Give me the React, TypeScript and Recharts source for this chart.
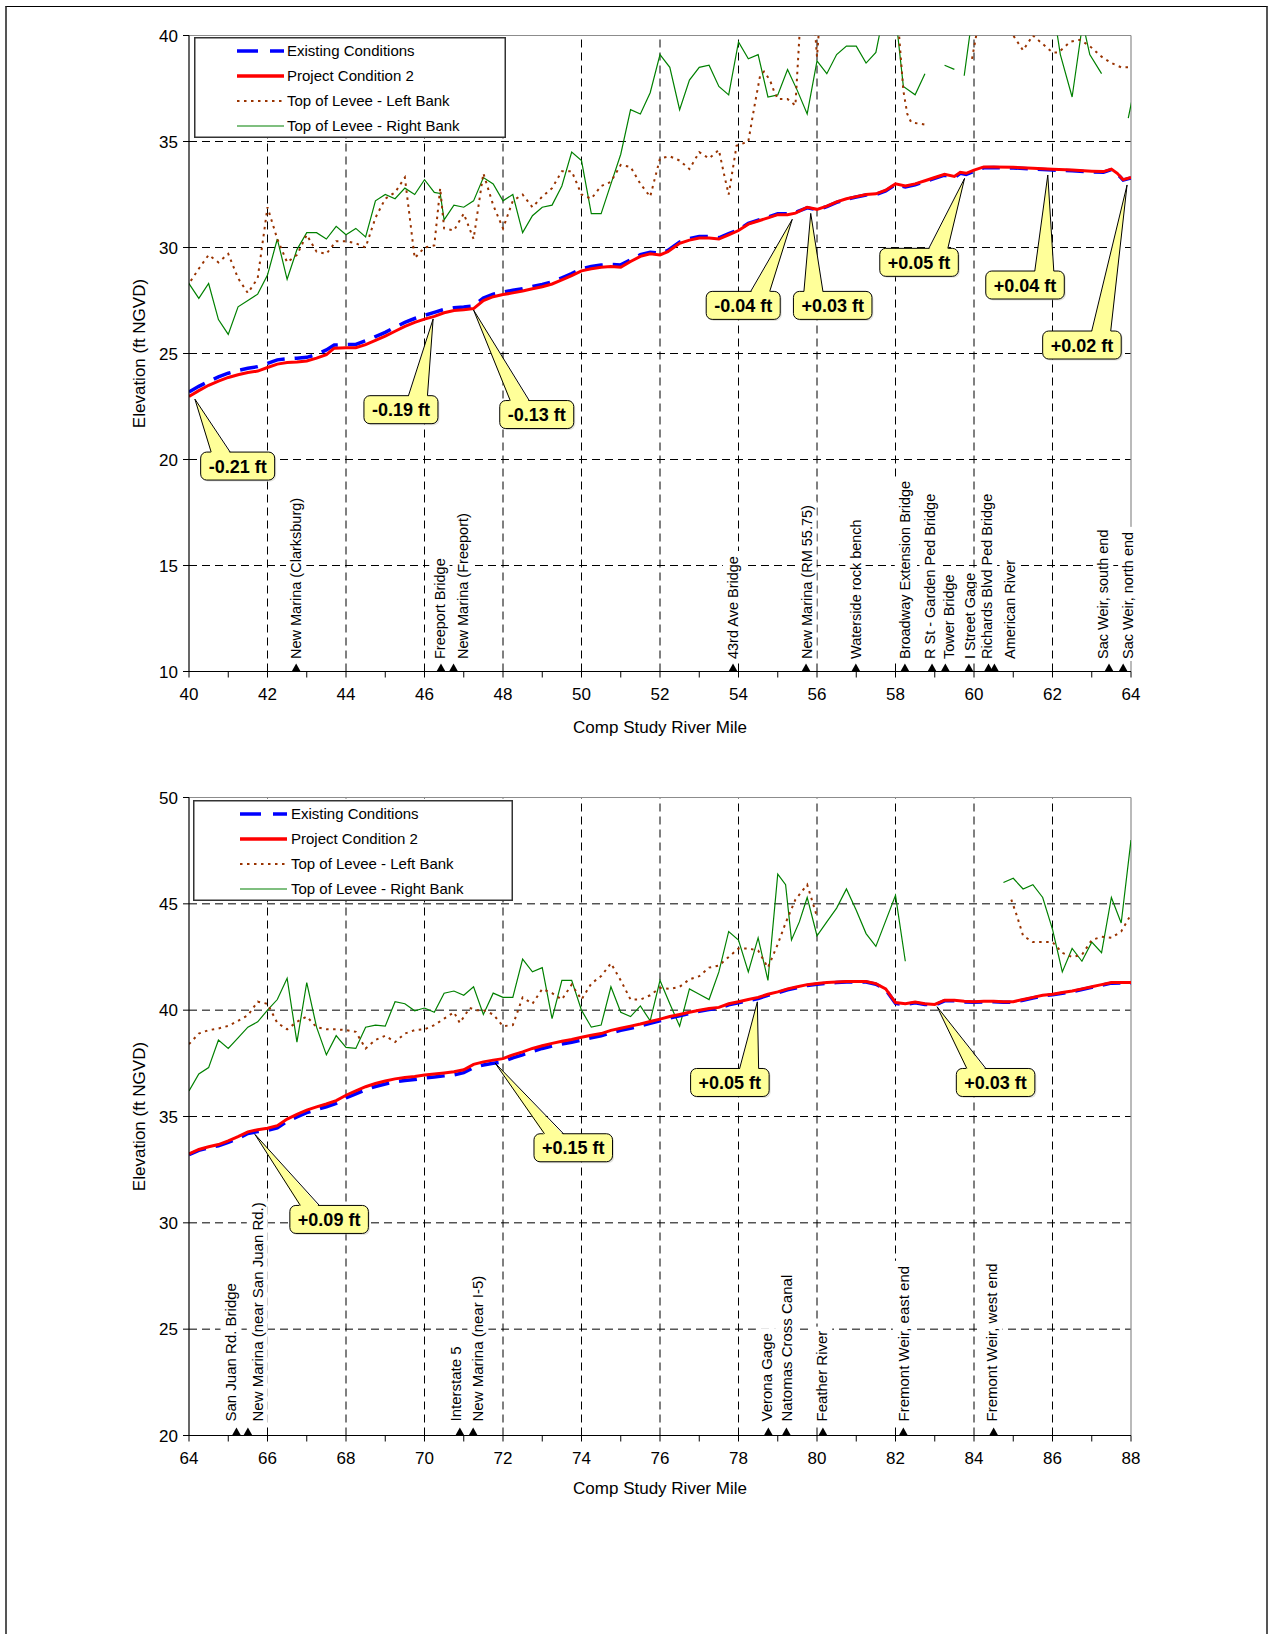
import React from 'react';
import { LineChart, Line, XAxis, YAxis, ReferenceLine, ReferenceDot } from 'recharts';

const FONT = '"Liberation Sans", Arial, Helvetica, sans-serif';
type Pt = [number, number | null];
type Marker = [string, number, number]; // name, river mile, label mile
type Callout = [string, number, number, number, number]; // text, tip mile, tip elev, box mile, box elev

const seriesNames = ['Existing Conditions', 'Project Condition 2', 'Top of Levee - Left Bank', 'Top of Levee - Right Bank'];

// ---------------- Upper reach: RM 40 - 64 ----------------
const topMileTicks = [40, 41, 42, 43, 44, 45, 46, 47, 48, 49, 50, 51, 52, 53, 54, 55, 56, 57, 58, 59, 60, 61, 62, 63, 64];
const topElevTicks = [10, 15, 20, 25, 30, 35, 40];
const topGridMiles = [42, 44, 46, 48, 50, 52, 54, 56, 58, 60, 62];
const topGridElevs = [15, 20, 25, 30, 35];

const topProject: Pt[] = [
  [40, 22.97], [40.25, 23.25], [40.5, 23.5], [40.75, 23.7], [41, 23.87], [41.25, 24.0], [41.5, 24.1], [41.75, 24.17],
  [42, 24.34], [42.25, 24.5], [42.5, 24.57], [42.75, 24.6], [43, 24.65], [43.25, 24.78], [43.5, 24.95], [43.7, 25.25],
  [44, 25.27], [44.25, 25.27], [44.5, 25.42], [44.75, 25.62], [45, 25.82], [45.25, 26.05], [45.5, 26.28], [45.75, 26.47],
  [46, 26.62], [46.25, 26.75], [46.5, 26.92], [46.75, 27.03], [47, 27.06], [47.25, 27.12], [47.5, 27.5], [47.75, 27.68],
  [48, 27.78], [48.25, 27.86], [48.5, 27.95], [48.75, 28.05], [49, 28.15], [49.25, 28.28], [49.5, 28.47], [49.75, 28.67],
  [50, 28.9], [50.25, 29.0], [50.5, 29.07], [50.75, 29.1], [51, 29.07], [51.25, 29.34], [51.5, 29.58], [51.75, 29.7],
  [52, 29.65], [52.2, 29.8], [52.5, 30.2], [52.75, 30.35], [53, 30.45], [53.25, 30.45], [53.5, 30.4], [53.75, 30.6],
  [54, 30.8], [54.25, 31.1], [54.5, 31.25], [54.75, 31.4], [55, 31.55], [55.25, 31.55], [55.45, 31.62], [55.75, 31.9],
  [56, 31.8], [56.25, 31.95], [56.5, 32.15], [56.75, 32.3], [57, 32.4], [57.25, 32.5], [57.5, 32.53], [57.75, 32.7],
  [58, 33.0], [58.25, 32.9], [58.5, 33.0], [58.75, 33.15], [59, 33.3], [59.25, 33.45], [59.5, 33.35], [59.65, 33.55],
  [59.8, 33.5], [60, 33.65], [60.25, 33.8], [60.5, 33.8], [61, 33.78], [61.5, 33.74], [62, 33.69], [62.5, 33.65],
  [63, 33.6], [63.3, 33.58], [63.5, 33.7], [63.65, 33.5], [63.8, 33.2], [64, 33.3],
];

const topExisting: Pt[] = [
  [40, 23.18], [40.25, 23.45], [40.5, 23.68], [40.75, 23.9], [41, 24.07], [41.25, 24.2], [41.5, 24.3], [41.75, 24.38],
  [42, 24.53], [42.25, 24.7], [42.5, 24.75], [42.75, 24.78], [43, 24.82], [43.25, 24.95], [43.5, 25.17], [43.7, 25.4],
  [44, 25.42], [44.25, 25.43], [44.5, 25.6], [44.75, 25.8], [45, 26.0], [45.25, 26.24], [45.5, 26.47], [45.75, 26.65],
  [46, 26.8], [46.25, 26.94], [46.5, 27.08], [46.75, 27.16], [47, 27.19], [47.25, 27.25], [47.5, 27.62], [47.75, 27.8],
  [48, 27.9], [48.25, 27.98], [48.5, 28.06], [48.75, 28.16], [49, 28.26], [49.25, 28.38], [49.5, 28.57], [49.75, 28.77],
  [50, 29.0], [50.25, 29.1], [50.5, 29.17], [50.75, 29.2], [51, 29.18], [51.25, 29.42], [51.5, 29.66], [51.75, 29.78],
  [52, 29.73], [52.2, 29.86], [52.5, 30.26], [52.75, 30.42], [53, 30.52], [53.25, 30.52], [53.5, 30.46], [53.75, 30.65],
  [54, 30.84], [54.25, 31.14], [54.5, 31.29], [54.75, 31.44], [55, 31.59], [55.25, 31.59], [55.45, 31.66], [55.75, 31.87],
  [56, 31.78], [56.25, 31.93], [56.5, 32.13], [56.75, 32.28], [57, 32.38], [57.25, 32.48], [57.5, 32.5], [57.75, 32.67],
  [58, 32.97], [58.25, 32.86], [58.5, 32.96], [58.75, 33.11], [59, 33.26], [59.25, 33.41], [59.5, 33.3], [59.65, 33.5],
  [59.8, 33.45], [60, 33.6], [60.25, 33.76], [60.5, 33.77], [61, 33.75], [61.5, 33.71], [62, 33.65], [62.5, 33.62],
  [63, 33.57], [63.3, 33.55], [63.5, 33.67], [63.65, 33.48], [63.8, 33.18], [64, 33.28],
];

const topLeftBank: Pt[] = [
  [39.75, 27.6], [40, 28.3], [40.25, 29.0], [40.5, 29.65], [40.75, 29.3], [41, 29.7], [41.25, 28.55], [41.5, 27.85],
  [41.75, 28.55], [42, 31.9], [42.25, 30.4], [42.5, 29.3], [42.75, 29.65], [43, 30.6], [43.25, 29.8], [43.5, 29.7],
  [43.75, 30.3], [44, 30.3], [44.25, 30.2], [44.5, 30.0], [44.75, 31.4], [45, 32.3], [45.25, 32.6], [45.5, 33.3],
  [45.75, 29.5], [46, 30.0], [46.25, 30.1], [46.4, 32.8], [46.5, 30.9], [46.75, 30.8], [47, 31.6], [47.25, 30.4],
  [47.5, 33.5], [47.75, 32.0], [48, 30.9], [48.25, 32.2], [48.5, 32.5], [48.75, 31.9], [49, 32.4], [49.25, 32.8],
  [49.5, 33.6], [49.75, 33.6], [50, 32.5], [50.25, 32.3], [50.5, 32.9], [50.75, 33.1], [51, 33.9], [51.25, 33.8],
  [51.5, 33.0], [51.75, 32.4], [52, 34.2], [52.25, 34.3], [52.5, 34.1], [52.75, 33.7], [53, 34.5], [53.25, 34.2],
  [53.5, 34.6], [53.65, 33.3], [53.75, 32.5], [53.95, 34.8], [54.25, 35.0], [54.4, 36.6], [54.55, 38.1], [54.65, 38.3],
  [54.8, 37.9], [54.9, 37.4], [55, 37.0], [55.25, 37.0], [55.45, 36.7], [55.6, 41.5], [55.9, 41.5], [56, 39.0],
  [56.1, 41.5], [57.75, 42], [58.05, 41.0], [58.2, 37.4], [58.3, 36.3], [58.4, 35.9], [58.75, 35.8], [59, null],
  [59.95, 38.9], [60.25, 42], [60.75, 40.8], [61, 40.0], [61.25, 39.3], [61.5, 40.0], [61.75, 39.6], [62, 39.2],
  [62.15, 39.2], [62.45, 39.7], [62.7, 39.8], [62.95, 39.5], [63.25, 39.0], [63.5, 38.7], [63.75, 38.5], [64, 38.5],
  [64.1, 38.7],
];

const topRightBank: Pt[] = [
  [39.75, 27.0], [40, 28.3], [40.25, 27.6], [40.5, 28.3], [40.75, 26.6], [41, 25.9], [41.25, 27.2], [41.5, 27.5],
  [41.75, 27.8], [42, 28.7], [42.25, 30.4], [42.5, 28.5], [42.75, 29.9], [43, 30.7], [43.25, 30.7], [43.5, 30.4],
  [43.75, 31.0], [44, 30.6], [44.25, 30.9], [44.5, 30.5], [44.75, 32.2], [45, 32.5], [45.25, 32.3], [45.5, 32.8],
  [45.75, 32.5], [46, 33.2], [46.25, 32.6], [46.4, 32.55], [46.5, 31.3], [46.75, 32.0], [47, 31.9], [47.25, 32.2],
  [47.5, 33.3], [47.75, 33.0], [48, 32.2], [48.25, 32.5], [48.5, 30.7], [48.75, 31.5], [49, 31.9], [49.25, 32.0],
  [49.5, 32.9], [49.75, 34.5], [50, 34.1], [50.25, 31.6], [50.5, 31.6], [50.75, 33.0], [51, 34.4], [51.25, 36.5],
  [51.5, 36.3], [51.75, 37.3], [52, 39.1], [52.25, 38.5], [52.5, 36.5], [52.75, 37.9], [53, 38.5], [53.25, 38.6],
  [53.5, 37.6], [53.75, 37.2], [54, 39.7], [54.25, 38.9], [54.5, 39.1], [54.75, 37.1], [55, 37.2], [55.25, 38.4],
  [55.5, 37.4], [55.75, 36.3], [56, 38.8], [56.25, 38.2], [56.5, 39.1], [56.75, 39.5], [57, 39.5], [57.25, 38.7],
  [57.5, 39.2], [57.75, 41.5], [58, 41.0], [58.2, 37.6], [58.5, 37.2], [58.75, 38.2], [59, null], [59.25, 38.6],
  [59.5, 38.4], [59.6, null], [59.75, 38.1], [60, 41.5], [60.5, 42], [61, 42], [61.5, 42], [62, 41.5],
  [62.2, 39.1], [62.5, 37.1], [62.77, 40.6], [62.95, 39.1], [63.25, 38.2], [63.5, null], [63.93, 36.1], [64.25, 39.0],
];

const topMarkers: Marker[] = [
  ['New Marina (Clarksburg)', 42.73, 42.73],
  ['Freeport Bridge', 46.42, 46.38],
  ['New Marina (Freeport)', 46.74, 46.97],
  ['43rd Ave Bridge', 53.86, 53.86],
  ['New Marina (RM 55.75)', 55.72, 55.73],
  ['Waterside rock bench', 56.99, 56.98],
  ['Broadway Extension Bridge', 58.24, 58.24],
  ['R St - Garden Ped Bridge', 58.93, 58.87],
  ['Tower Bridge', 59.27, 59.37],
  ['I Street Gage', 59.87, 59.89],
  ['Richards Blvd Ped Bridge', 60.37, 60.33],
  ['American River', 60.52, 60.91],
  ['Sac Weir, south end', 63.44, 63.29],
  ['Sac Weir, north end', 63.8, 63.93],
];

const topCallouts: Callout[] = [
  ['-0.21 ft', 40.15, 22.85, 41.24, 19.69],
  ['-0.19 ft', 46.22, 26.63, 45.4, 22.35],
  ['-0.13 ft', 47.25, 27.05, 48.86, 22.12],
  ['-0.04 ft', 55.37, 31.33, 54.12, 27.27],
  ['+0.03 ft', 55.84, 31.61, 56.4, 27.27],
  ['+0.05 ft', 59.76, 33.26, 58.6, 29.3],
  ['+0.04 ft', 61.88, 33.42, 61.3, 28.23],
  ['+0.02 ft', 63.9, 32.95, 62.75, 25.4],
];

// ---------------- Lower reach: RM 64 - 88 ----------------
const botMileTicks = [64, 65, 66, 67, 68, 69, 70, 71, 72, 73, 74, 75, 76, 77, 78, 79, 80, 81, 82, 83, 84, 85, 86, 87, 88];
const botElevTicks = [20, 25, 30, 35, 40, 45, 50];
const botGridMiles = [66, 68, 70, 72, 74, 76, 78, 80, 82, 84, 86];
const botGridElevs = [25, 30, 35, 40, 45];

const botProject: Pt[] = [
  [64, 33.24], [64.25, 33.45], [64.5, 33.58], [64.75, 33.68], [65, 33.85], [65.25, 34.05], [65.5, 34.28], [65.75, 34.38],
  [66, 34.45], [66.25, 34.57], [66.5, 34.88], [66.75, 35.1], [67, 35.3], [67.25, 35.45], [67.5, 35.59], [67.75, 35.75],
  [68, 36.0], [68.25, 36.2], [68.5, 36.4], [68.75, 36.55], [69, 36.67], [69.25, 36.77], [69.5, 36.83], [69.75, 36.88],
  [70, 36.95], [70.25, 37.0], [70.5, 37.05], [70.75, 37.1], [71, 37.2], [71.25, 37.45], [71.5, 37.57], [71.75, 37.65],
  [72, 37.72], [72.25, 37.9], [72.5, 38.04], [72.75, 38.2], [73, 38.33], [73.25, 38.44], [73.5, 38.54], [73.75, 38.62],
  [74, 38.73], [74.25, 38.82], [74.5, 38.9], [74.75, 39.05], [75, 39.15], [75.25, 39.25], [75.5, 39.35], [75.75, 39.47],
  [76, 39.58], [76.25, 39.7], [76.5, 39.8], [76.75, 39.9], [77, 40.0], [77.25, 40.08], [77.5, 40.13], [77.75, 40.3],
  [78, 40.4], [78.25, 40.5], [78.5, 40.6], [78.75, 40.75], [79, 40.86], [79.25, 41.0], [79.5, 41.1], [79.75, 41.2],
  [80, 41.25], [80.25, 41.3], [80.5, 41.33], [80.75, 41.35], [81, 41.35], [81.25, 41.35], [81.5, 41.25], [81.75, 41.0],
  [82, 40.36], [82.25, 40.3], [82.5, 40.38], [82.75, 40.3], [83, 40.27], [83.25, 40.47], [83.5, 40.47], [83.75, 40.42],
  [84, 40.4], [84.25, 40.42], [84.5, 40.42], [84.75, 40.4], [85, 40.4], [85.25, 40.5], [85.5, 40.6], [85.75, 40.7],
  [86, 40.75], [86.25, 40.83], [86.5, 40.9], [86.75, 41.0], [87, 41.1], [87.25, 41.2], [87.5, 41.3], [87.75, 41.3],
  [88, 41.3],
];

const botExisting: Pt[] = [
  [64, 33.2], [64.25, 33.41], [64.5, 33.53], [64.75, 33.62], [65, 33.78], [65.25, 33.97], [65.5, 34.2], [65.75, 34.29],
  [66, 34.35], [66.25, 34.46], [66.5, 34.77], [66.75, 34.98], [67, 35.18], [67.25, 35.32], [67.5, 35.46], [67.75, 35.62],
  [68, 35.87], [68.25, 36.06], [68.5, 36.26], [68.75, 36.41], [69, 36.53], [69.25, 36.63], [69.5, 36.69], [69.75, 36.74],
  [70, 36.81], [70.25, 36.86], [70.5, 36.91], [70.75, 36.96], [71, 37.06], [71.25, 37.3], [71.5, 37.42], [71.75, 37.5],
  [72, 37.57], [72.25, 37.76], [72.5, 37.9], [72.75, 38.06], [73, 38.2], [73.25, 38.31], [73.5, 38.41], [73.75, 38.49],
  [74, 38.6], [74.25, 38.7], [74.5, 38.79], [74.75, 38.94], [75, 39.05], [75.25, 39.15], [75.5, 39.26], [75.75, 39.38],
  [76, 39.5], [76.25, 39.63], [76.5, 39.74], [76.75, 39.84], [77, 39.95], [77.25, 40.03], [77.5, 40.08], [77.75, 40.25],
  [78, 40.35], [78.25, 40.45], [78.5, 40.55], [78.75, 40.7], [79, 40.82], [79.25, 40.96], [79.5, 41.06], [79.75, 41.16],
  [80, 41.22], [80.25, 41.27], [80.5, 41.3], [80.75, 41.32], [81, 41.32], [81.25, 41.32], [81.5, 41.22], [81.75, 40.97],
  [82, 40.32], [82.25, 40.26], [82.5, 40.35], [82.75, 40.27], [83, 40.24], [83.25, 40.44], [83.5, 40.44], [83.75, 40.39],
  [84, 40.37], [84.25, 40.39], [84.5, 40.39], [84.75, 40.37], [85, 40.37], [85.25, 40.47], [85.5, 40.57], [85.75, 40.67],
  [86, 40.72], [86.25, 40.8], [86.5, 40.87], [86.75, 40.97], [87, 41.07], [87.25, 41.17], [87.5, 41.27], [87.75, 41.28],
  [88, 41.28],
];

const botLeftBank: Pt[] = [
  [64, 38.4], [64.25, 38.9], [64.5, 39.06], [64.75, 39.14], [65, 39.26], [65.25, 39.5], [65.5, 39.76], [65.75, 40.4],
  [66, 40.3], [66.25, 39.4], [66.5, 39.1], [66.75, 39.45], [67, 39.7], [67.25, 39.2], [67.5, 39.1], [67.75, 39.1],
  [68, 39.06], [68.25, 38.98], [68.5, 38.2], [68.75, 38.6], [69, 38.8], [69.25, 38.5], [69.5, 38.9], [69.75, 39.06],
  [70, 39.1], [70.25, 39.3], [70.5, 39.6], [70.75, 39.9], [70.9, 39.4], [71.15, 40.1], [71.33, 40.0], [71.5, 40.0],
  [71.75, 39.8], [72, 39.25], [72.25, 39.3], [72.5, 40.6], [72.75, 40.3], [73, 41.0], [73.25, 40.8], [73.5, 40.5],
  [73.75, 41.2], [74, 40.5], [74.25, 41.25], [74.5, 41.6], [74.75, 42.2], [75, 41.4], [75.25, 40.5], [75.5, 40.5],
  [75.75, 40.7], [76, 41.05], [76.25, 41.0], [76.5, 41.1], [76.75, 41.45], [77, 41.6], [77.25, 42.0], [77.5, 42.1],
  [77.75, 42.5], [78, 42.9], [78.25, 42.9], [78.5, 42.8], [78.75, 42.0], [79, 43.1], [79.2, 44.1], [79.45, 45.2],
  [79.75, 45.9], [80, 44.4], [80.25, null], [84.75, null], [84.95, 45.2], [85.1, 44.4], [85.25, 43.5], [85.5, 43.2],
  [85.75, 43.2], [86, 43.2], [86.25, 42.7], [86.5, 42.5], [86.75, 42.6], [87, 43.3], [87.25, 43.45], [87.5, 43.4],
  [87.75, 43.7], [88, 44.5], [88.1, 44.7],
];

const botRightBank: Pt[] = [
  [64, 36.2], [64.25, 37.0], [64.5, 37.3], [64.75, 38.6], [65, 38.2], [65.25, 38.7], [65.5, 39.2], [65.75, 39.45],
  [66, 40.0], [66.25, 40.5], [66.5, 41.5], [66.75, 38.5], [67, 41.3], [67.25, 39.2], [67.5, 37.9], [67.75, 38.8],
  [68, 38.25], [68.25, 38.2], [68.5, 39.2], [68.75, 39.3], [69, 39.25], [69.25, 40.4], [69.5, 40.3], [69.75, 39.97],
  [70, 40.1], [70.25, 39.9], [70.5, 40.8], [70.75, 40.9], [71, 40.7], [71.25, 41.1], [71.5, 39.8], [71.75, 40.8],
  [72, 40.6], [72.25, 40.6], [72.5, 42.4], [72.75, 41.8], [73, 42.0], [73.25, 39.6], [73.5, 41.4], [73.75, 41.4],
  [74, 40.0], [74.25, 39.2], [74.5, 39.3], [74.75, 41.1], [75, 39.9], [75.25, 39.7], [75.5, 40.2], [75.75, 39.5],
  [76, 41.4], [76.25, 40.3], [76.5, 39.25], [76.75, 41.0], [77, 40.75], [77.25, 40.5], [77.5, 41.8], [77.75, 43.7],
  [78, 43.3], [78.25, 41.8], [78.5, 43.4], [78.75, 41.4], [79, 46.4], [79.2, 45.9], [79.35, 43.3], [79.55, 44.15],
  [79.75, 45.3], [80, 43.5], [80.25, 44.15], [80.5, 44.8], [80.75, 45.7], [81, 44.7], [81.25, 43.6], [81.5, 43.0],
  [81.75, 44.2], [82, 45.4], [82.25, 42.3], [82.5, null], [84.5, null], [84.75, 46.0], [85, 46.2], [85.25, 45.7],
  [85.5, 45.9], [85.75, 45.3], [86, 43.8], [86.25, 41.8], [86.5, 42.9], [86.75, 42.3], [87, 43.2], [87.25, 42.7],
  [87.5, 45.3], [87.75, 44.1], [88, 48.0], [88.1, 46.4],
];

const botMarkers: Marker[] = [
  ['San Juan Rd. Bridge', 65.21, 65.07],
  ['New Marina (near San Juan Rd.)', 65.5, 65.74],
  ['Interstate 5', 70.9, 70.78],
  ['New Marina (near I-5)', 71.24, 71.36],
  ['Verona Gage', 78.76, 78.71],
  ['Natomas Cross Canal', 79.22, 79.22],
  ['Feather River', 80.15, 80.12],
  ['Fremont Weir, east end', 82.2, 82.2],
  ['Fremont Weir, west end', 84.5, 84.46],
];

const botCallouts: Callout[] = [
  ['+0.09 ft', 65.68, 34.16, 67.57, 30.16],
  ['+0.15 ft', 71.8, 37.51, 73.79, 33.53],
  ['+0.05 ft', 78.48, 40.39, 77.78, 36.6],
  ['+0.03 ft', 83.06, 40.16, 84.55, 36.6],
];

// ---------------- helpers ----------------
const toRows = (pts: Pt[]) => pts.map(([mile, v]) => ({ mile, v }));

const BOLD_W: Record<string, number> = {
  '0': 0.556, '1': 0.556, '2': 0.556, '3': 0.556, '4': 0.556, '5': 0.556, '6': 0.556, '7': 0.556, '8': 0.556, '9': 0.556,
  '.': 0.278, ' ': 0.278, f: 0.333, t: 0.333, '+': 0.584, '-': 0.333,
};
const boldWidth = (s: string, fs: number) => s.split('').reduce((a, c) => a + (BOLD_W[c] ?? 0.556), 0) * fs;

const REG_W: Record<string, number> = {
  a: 0.556, b: 0.556, c: 0.5, d: 0.556, e: 0.556, f: 0.278, g: 0.556, h: 0.556, i: 0.222, j: 0.222, k: 0.5, l: 0.222,
  m: 0.833, n: 0.556, o: 0.556, p: 0.556, q: 0.556, r: 0.333, s: 0.5, t: 0.278, u: 0.556, v: 0.5, w: 0.722, x: 0.5,
  y: 0.5, z: 0.5, A: 0.667, B: 0.667, C: 0.722, D: 0.722, E: 0.667, F: 0.611, G: 0.778, H: 0.722, I: 0.278, J: 0.5,
  K: 0.667, L: 0.556, M: 0.833, N: 0.722, O: 0.778, P: 0.667, Q: 0.778, R: 0.722, S: 0.667, T: 0.611, U: 0.722,
  V: 0.667, W: 0.944, X: 0.667, Y: 0.667, Z: 0.611, ' ': 0.278, '(': 0.333, ')': 0.333, ',': 0.278, '.': 0.278,
  '-': 0.333, '+': 0.584,
};
const regWidth = (s: string, fs: number) => s.split('').reduce((a, c) => a + (REG_W[c] ?? 0.556), 0) * fs;

function calloutShape(text: string) {
  return (p: any) => {
    const { x1, y1, x2, y2 } = p;
    const fs = 18;
    const w = boldWidth(text, fs) + 16;
    const h = 28;
    const left = x2 - w / 2;
    const right = x2 + w / 2;
    const top = y2 - h / 2;
    const bottom = y2 + h / 2;
    const above = y1 < top;
    const edge = above ? top : bottom;
    const inset = above ? 1.5 : -1.5;
    const bx = Math.min(Math.max(x1, left + 20), right - 20);
    const hw = 9.5;
    return (
      <g>
        <rect x={left + 1.5} y={top + 1.5} width={w} height={h} rx={6} fill="#b0b0a0" opacity={0.35} />
        <rect x={left} y={top} width={w} height={h} rx={6} fill="#FFFF99" stroke="#000" strokeWidth={1} />
        <polygon points={`${bx - hw},${edge + inset} ${x1},${y1} ${bx + hw},${edge + inset}`} fill="#FFFF99" stroke="none" />
        <line x1={bx - hw} y1={edge} x2={x1} y2={y1} stroke="#000" strokeWidth={1} />
        <line x1={bx + hw} y1={edge} x2={x1} y2={y1} stroke="#000" strokeWidth={1} />
        <text x={x2} y={y2 + fs * 0.36} textAnchor="middle" fontWeight="bold" fontSize={fs} fontFamily={FONT} fill="#000">
          {text}
        </text>
      </g>
    );
  };
}

const triangleShape = (p: any) => {
  const { cx, cy } = p;
  return <polygon points={`${cx - 4.5},${cy} ${cx + 4.5},${cy} ${cx},${cy - 8}`} fill="#000" />;
};

function markerLabelShape(text: string, fs: number, lift: number) {
  return (p: any) => {
    const x = p.cx + fs * 0.36;
    const y = p.cy - lift;
    const len = regWidth(text, fs);
    const half = fs * 0.7;
    return (
      <g>
        <rect x={p.cx - half} y={y - len - 4} width={half * 2} height={len + 6} fill="#fff" />
        <text x={x} y={y} transform={`rotate(-90 ${x} ${y})`} fontSize={fs} fontFamily={FONT} fill="#000">
          {text}
        </text>
      </g>
    );
  };
}

interface ChartProps {
  height: number;
  margin: { top: number; right: number; bottom: number; left: number };
  xDomain: [number, number];
  xTicks: number[];
  yDomain: [number, number];
  yTicks: number[];
  gridMiles: number[];
  gridElevs: number[];
  existing: Pt[];
  project: Pt[];
  leftBank: Pt[];
  rightBank: Pt[];
  markers: Marker[];
  callouts: Callout[];
  markerFont: number;
  markerLift: number;
  xTitleOffset: number;
}

function ProfileChart(props: ChartProps) {
  const {
    height, margin, xDomain, xTicks, yDomain, yTicks, gridMiles, gridElevs,
    existing, project, leftBank, rightBank, markers, callouts, markerFont, markerLift, xTitleOffset,
  } = props;
  const tickStyle = { fill: '#000', fontSize: 17, fontFamily: FONT };
  return (
    <LineChart width={1275} height={height} margin={margin}>
      {gridMiles.map((m) => (
        <ReferenceLine key={`gx${m}`} x={m} stroke="#000" strokeWidth={1} strokeDasharray="8 5" zIndex={-100} />
      ))}
      {gridElevs.map((e) => (
        <ReferenceLine key={`gy${e}`} y={e} stroke="#000" strokeWidth={1} strokeDasharray="8 5" zIndex={-100} />
      ))}
      <ReferenceLine y={yDomain[1]} stroke="#8c8c8c" strokeWidth={1.2} zIndex={-90} />
      <ReferenceLine x={xDomain[1]} stroke="#8c8c8c" strokeWidth={1.2} zIndex={-90} />
      {markers.map(([name, , labelMile]) => (
        <ReferenceDot
          key={`lbl${name}`} x={labelMile} y={yDomain[0]} r={1} ifOverflow="visible"
          shape={markerLabelShape(name, markerFont, markerLift)} zIndex={-80}
        />
      ))}
      <Line
        name={seriesNames[3]} data={toRows(rightBank)} dataKey="v" type="linear" stroke="#008000" strokeWidth={1.2}
        dot={false} activeDot={false} isAnimationActive={false} connectNulls={false}
      />
      <Line
        name={seriesNames[2]} data={toRows(leftBank)} dataKey="v" type="linear" stroke="#993300" strokeWidth={2}
        strokeDasharray="2.5 4.5" dot={false} activeDot={false} isAnimationActive={false} connectNulls={false}
      />
      <Line
        name={seriesNames[0]} data={toRows(existing)} dataKey="v" type="linear" stroke="#0000FF" strokeWidth={3.5}
        strokeDasharray="18 10" dot={false} activeDot={false} isAnimationActive={false}
      />
      <Line
        name={seriesNames[1]} data={toRows(project)} dataKey="v" type="linear" stroke="#FF0000" strokeWidth={3}
        dot={false} activeDot={false} isAnimationActive={false}
      />
      <XAxis
        type="number" dataKey="mile" domain={xDomain} ticks={xTicks} allowDataOverflow interval={0} height={70}
        tickSize={6} tickMargin={10} tick={tickStyle} axisLine={{ stroke: '#000', strokeWidth: 1.2 }} tickLine={{ stroke: '#000' }}
        tickFormatter={(v: number) => (v % 2 === 0 ? String(v) : '')}
        label={{ value: 'Comp Study River Mile', position: 'insideTop', offset: xTitleOffset, style: { fill: '#000', fontSize: 17, fontFamily: FONT } }}
      />
      <YAxis
        type="number" domain={yDomain} ticks={yTicks} allowDataOverflow interval={0} width={60}
        tickSize={6} tickMargin={5} tick={tickStyle} axisLine={{ stroke: '#000', strokeWidth: 1.2 }} tickLine={{ stroke: '#000' }}
        label={{ value: 'Elevation (ft NGVD)', angle: -90, position: 'insideLeft', offset: 9.5, style: { textAnchor: 'middle', fill: '#000', fontSize: 17, fontFamily: FONT } }}
      />
      {markers.map(([name, mile]) => (
        <ReferenceDot key={`tri${name}`} x={mile} y={yDomain[0]} r={1} ifOverflow="visible" shape={triangleShape} zIndex={700} />
      ))}
      {callouts.map(([text, tm, te, bm, be]) => (
        <ReferenceLine
          key={`${text}${tm}`}
          segment={[{ x: tm, y: te }, { x: bm, y: be }]}
          ifOverflow="visible"
          shape={calloutShape(text)}
          zIndex={1500}
        />
      ))}
    </LineChart>
  );
}

function LegendBox({ left, top, width, sampleX, textX }: { left: number; top: number; width: number; sampleX: number; textX: number }) {
  const styles = [
    { stroke: '#0000FF', w: 3.5, dash: '21 12' },
    { stroke: '#FF0000', w: 3.5, dash: undefined },
    { stroke: '#993300', w: 2, dash: '2.5 4.5' },
    { stroke: '#008000', w: 1.2, dash: undefined },
  ];
  const h = 101;
  return (
    <svg style={{ position: 'absolute', left, top }} width={width} height={h}>
      <rect x={0.75} y={0.75} width={width - 1.5} height={h - 1.5} fill="#fff" stroke="#333" strokeWidth={1.5} />
      {seriesNames.map((name, i) => {
        const y = 14 + i * 25;
        const s = styles[i];
        return (
          <g key={name}>
            <line x1={sampleX} x2={sampleX + 47} y1={y} y2={y} stroke={s.stroke} strokeWidth={s.w} strokeDasharray={s.dash} />
            <text x={textX} y={y + 5.3} fontSize={15} fontFamily={FONT} fill="#000">{name}</text>
          </g>
        );
      })}
    </svg>
  );
}

export default function App() {
  return (
    <div style={{ position: 'absolute', left: 0, top: 0, width: 1275, height: 1634, background: '#fff', overflow: 'hidden' }}>
      <div
        style={{
          position: 'absolute', left: 5, top: 6, width: 1263, height: 1628, boxSizing: 'border-box',
          borderLeft: '2px solid #555', borderRight: '2px solid #555', borderTop: '1px solid #000',
        }}
      />
      <div style={{ position: 'absolute', left: 0, top: 0 }}>
        <ProfileChart
          height={760}
          margin={{ top: 35.5, right: 144, bottom: 18.5, left: 129 }}
          xDomain={[40, 64]} xTicks={topMileTicks} yDomain={[10, 40]} yTicks={topElevTicks}
          gridMiles={topGridMiles} gridElevs={topGridElevs}
          existing={topExisting} project={topProject} leftBank={topLeftBank} rightBank={topRightBank}
          markers={topMarkers} callouts={topCallouts} markerFont={14.5} markerLift={12.5} xTitleOffset={49}
        />
      </div>
      <div style={{ position: 'absolute', left: 0, top: 760 }}>
        <ProfileChart
          height={780}
          margin={{ top: 37.5, right: 144, bottom: 34.5, left: 129 }}
          xDomain={[64, 88]} xTicks={botMileTicks} yDomain={[20, 50]} yTicks={botElevTicks}
          gridMiles={botGridMiles} gridElevs={botGridElevs}
          existing={botExisting} project={botProject} leftBank={botLeftBank} rightBank={botRightBank}
          markers={botMarkers} callouts={botCallouts} markerFont={15} markerLift={14} xTitleOffset={46.5}
        />
      </div>
      <LegendBox left={194} top={37} width={312} sampleX={43} textX={93} />
      <LegendBox left={193} top={800} width={320} sampleX={47} textX={98} />
    </div>
  );
}
